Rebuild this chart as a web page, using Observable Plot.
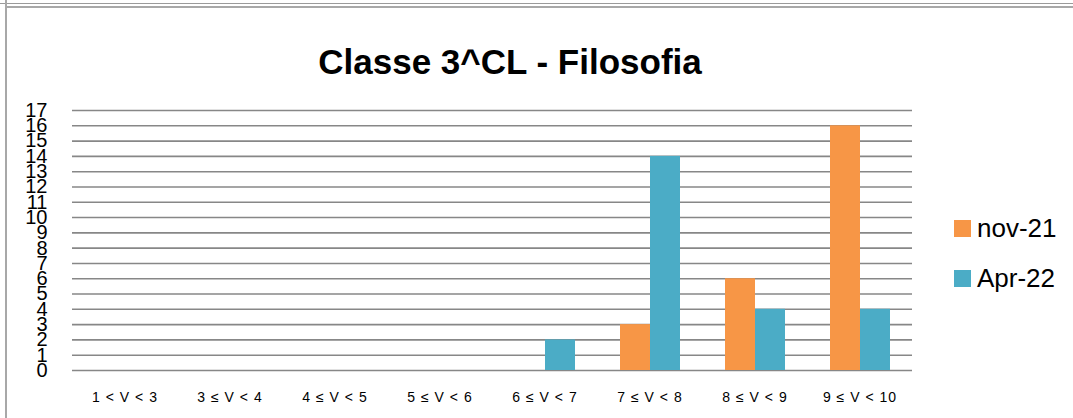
<!DOCTYPE html>
<html><head><meta charset="utf-8">
<script src="https://cdn.jsdelivr.net/npm/d3@7"></script>
<script src="https://cdn.jsdelivr.net/npm/@observablehq/plot@0.6"></script>
<style>
body{margin:0;background:#fff;}
#wrap{position:relative;width:1073px;height:418px;overflow:hidden;font-family:"Liberation Sans",Arial,sans-serif;background:#fff;}
#chart{position:absolute;left:0;top:0;}
#title{position:absolute;left:0;width:1020px;top:44px;line-height:35px;text-align:center;font-weight:bold;font-size:35px;color:#000;}
.leg{position:absolute;left:954px;font-size:26px;line-height:26px;color:#000;white-space:nowrap;}
.leg span.sw{position:absolute;left:0;width:17px;height:17px;}
.leg span.tx{position:absolute;left:23px;top:0;}
#topline{position:absolute;left:0;top:3px;width:1073px;height:0;border-top:1px solid #9a9a9a;}
#frame{position:absolute;left:5px;top:6px;width:1100px;height:500px;border-top:2px solid #a8a8a8;border-left:2px solid #a8a8a8;}
#leftstub{position:absolute;left:5px;top:0;width:2px;height:6px;background:#a8a8a8;}
svg g[aria-label="fx-axis tick label"] text{letter-spacing:1px;}
svg g[aria-label="fx-axis tick label"]{font-size:14px;}
svg g[aria-label="y-axis tick label"]{font-size:20px;}
</style>
</head><body>
<div id="wrap">
  <div id="topline"></div>
  <div id="leftstub"></div>
  <div id="frame"></div>
  <div id="chart"></div>
  <div id="title"></div>
  <div id="legend"></div>
</div>
<script>
const categories = ["1 < V < 3","3 ≤ V < 4","4 ≤ V < 5","5 ≤ V < 6","6 ≤ V < 7","7 ≤ V < 8","8 ≤ V < 9","9 ≤ V < 10"];
const series = ["nov-21","Apr-22"];
const nov21 = [0,0,0,0,0,3,6,16];
const apr22 = [0,0,0,0,2,14,4,4];
const yTicks = [0,1,2,3,4,5,6,7,8,9,10,11,12,13,14,15,16,17];
const colors = ["#F79646","#4BACC6"];
const titleText = "Classe 3^CL - Filosofia";

const data = categories.flatMap((c, i) => [
  {cat: c, series: series[0], value: nov21[i]},
  {cat: c, series: series[1], value: apr22[i]}
]);

const chart = Plot.plot({
  width: 1073,
  height: 418,
  marginLeft: 70,
  marginRight: 160,
  marginTop: 110,
  marginBottom: 48,
  style: {fontFamily: "Liberation Sans, Arial, sans-serif", color: "black", background: "transparent"},
  fx: {domain: categories, padding: 0, label: null},
  x: {domain: series, paddingInner: 0, paddingOuter: 0.75, axis: null},
  y: {domain: [0, 17], label: null},
  color: {domain: series, range: colors},
  marks: [
    Plot.ruleY(yTicks, {stroke: "#878787", strokeWidth: 1.6}),
    Plot.barY(data, {fx: "cat", x: "series", y: "value", fill: "series"}),
    Plot.axisY(yTicks, {tickSize: 0, tickPadding: 25, fontSize: 20, line: true, stroke: "#808080", strokeWidth: 2, fill: "black", label: null}),
    Plot.axisFx({anchor: "bottom", tickSize: 0, tickPadding: 22, fontSize: 14, label: null, fill: "black"})
  ]
});
document.getElementById("chart").appendChild(chart);
document.getElementById("title").textContent = titleText;

const legend = document.getElementById("legend");
const legTops = [215, 265];
series.forEach((s, i) => {
  const d = document.createElement("div");
  d.className = "leg";
  d.style.top = legTops[i] + "px";
  d.innerHTML = `<span class="sw" style="background:${colors[i]};top:5px"></span><span class="tx"></span>`;
  d.querySelector(".tx").textContent = s;
  legend.appendChild(d);
});
</script>
</body></html>
